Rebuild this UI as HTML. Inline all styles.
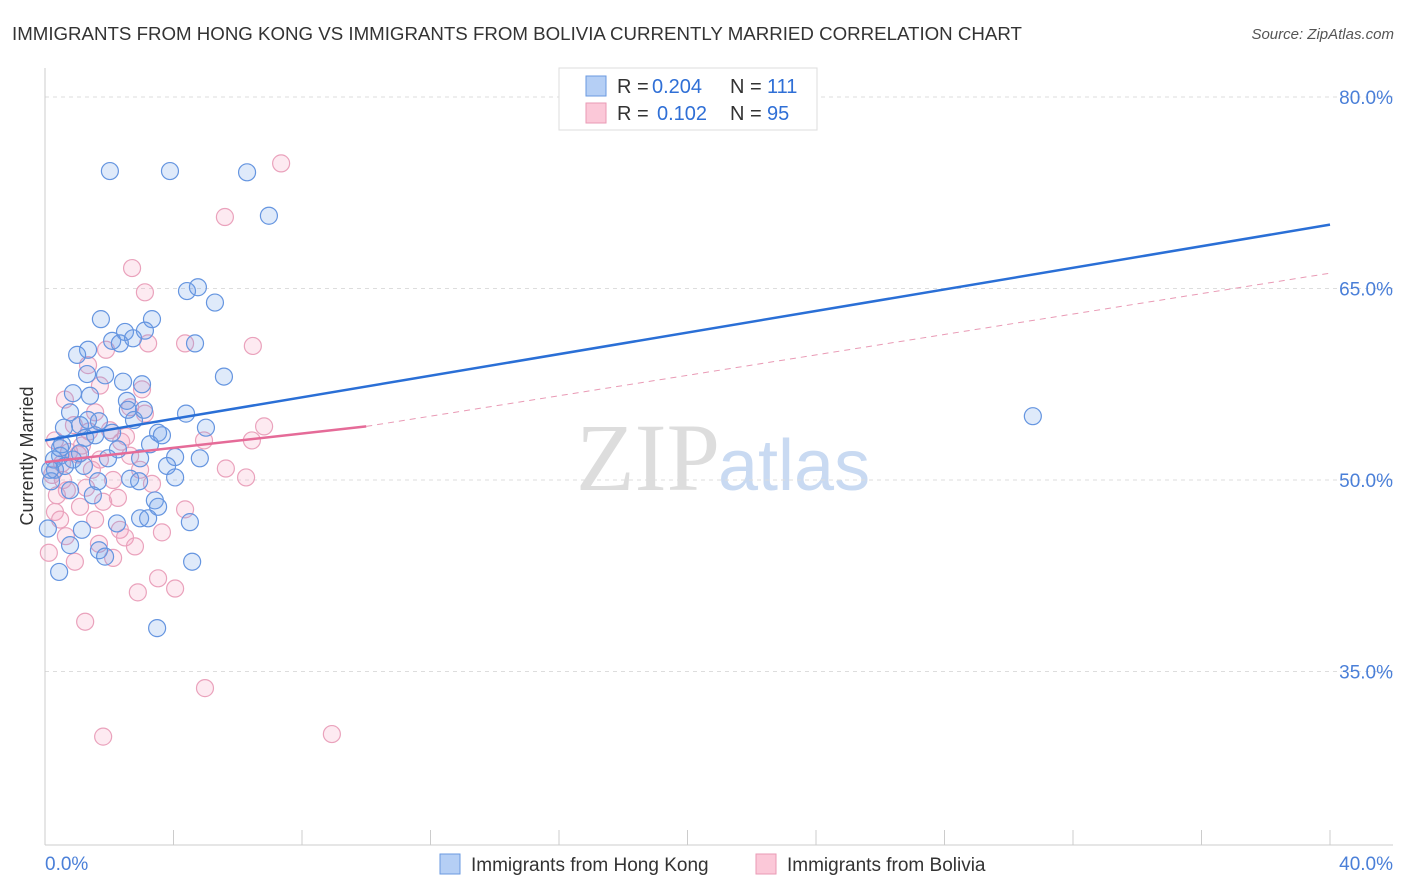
<!DOCTYPE html>
<html><head><meta charset="utf-8"><style>
body{margin:0;background:#fff;font-family:"Liberation Sans",sans-serif;}
svg{display:block}
</style></head><body>
<svg id="chart" width="1406" height="892" xmlns="http://www.w3.org/2000/svg">
<text x="12" y="40" font-size="18.7" fill="#333">IMMIGRANTS FROM HONG KONG VS IMMIGRANTS FROM BOLIVIA CURRENTLY MARRIED CORRELATION CHART</text>
<text x="1394" y="39" font-size="15" fill="#555" font-style="italic" text-anchor="end">Source: ZipAtlas.com</text>
<text transform="translate(33,456) rotate(-90)" font-size="18" fill="#333" text-anchor="middle">Currently Married</text>
<text x="720" y="490" font-size="96" text-anchor="end" fill="#ddd" font-family="Liberation Serif">ZIP</text>
<text x="718" y="490" font-size="72" fill="#c9daf2">atlas</text>
<g id="grid"></g><g id="axes"></g><g id="pts"></g><g id="lines"></g>
<g>
<rect x="559" y="68" width="258" height="62" fill="#fff" stroke="#ddd"/>
<rect x="586" y="76" width="20" height="20" fill="#b5cff5" stroke="#6a9ae0"/>
<rect x="586" y="103" width="20" height="20" fill="#fbc8d8" stroke="#e99ab5"/>
<text x="617" y="93" font-size="20" fill="#333">R =</text>
<text x="652" y="93" font-size="20" fill="#2f6fd6">0.204</text>
<text x="730" y="93" font-size="20" fill="#333">N =</text>
<text x="767" y="93" font-size="20" fill="#2f6fd6">111</text>
<text x="617" y="120" font-size="20" fill="#333">R =</text>
<text x="657" y="120" font-size="20" fill="#2f6fd6">0.102</text>
<text x="730" y="120" font-size="20" fill="#333">N =</text>
<text x="767" y="120" font-size="20" fill="#2f6fd6">95</text>
</g>
<g>
<rect x="440" y="854" width="20" height="20" fill="#b5cff5" stroke="#6a9ae0"/>
<text x="471" y="871" font-size="19" fill="#333">Immigrants from Hong Kong</text>
<rect x="756" y="854" width="20" height="20" fill="#fbc8d8" stroke="#e99ab5"/>
<text x="787" y="871" font-size="19" fill="#333">Immigrants from Bolivia</text>
</g>
</svg>
<script>
const yTicks=[80,65,50,35];
const yTickLabels=["80.0%","65.0%","50.0%","35.0%"];
const xLabels=["0.0%","40.0%"];
const blueX=[2.02,3.89,6.29,6.97,4.42,4.76,5.29,3.33,1.74,3.11,2.49,2.74,2.09,4.67,2.33,1.34,1.00,5.57,1.31,1.87,2.43,3.02,0.87,1.40,2.55,3.08,0.78,4.39,2.77,1.68,1.09,0.59,3.52,5.01,2.09,1.25,3.27,0.53,2.27,0.47,0.87,0.28,4.05,1.96,2.96,0.62,1.21,0.31,3.80,2.65,2.93,1.65,4.05,0.19,0.78,1.49,3.42,3.52,4.51,2.96,3.21,2.24,1.15,0.78,1.68,1.87,4.58,0.44,3.49,0.09,30.75,0.16,1.09,0.47,1.56,1.34,2.58,3.64,4.82];
const blueY=[74.2,74.2,74.1,70.7,64.8,65.1,63.9,62.6,62.6,61.7,61.6,61.1,60.9,60.7,60.7,60.2,59.8,58.1,58.3,58.2,57.7,57.5,56.8,56.6,56.2,55.5,55.3,55.2,54.7,54.6,54.3,54.1,53.7,54.1,53.7,53.3,52.8,52.8,52.4,51.9,51.6,51.6,51.8,51.7,51.7,51.1,51.1,50.8,51.1,50.1,49.9,49.9,50.2,49.9,49.2,48.8,48.4,47.9,46.7,47.0,47.0,46.6,46.1,44.9,44.5,44.0,43.6,42.8,38.4,46.2,55.0,50.8,52.1,52.5,53.5,54.7,55.5,53.5,51.7];
const pinkX=[7.35,5.60,2.71,3.11,4.36,6.47,3.21,1.90,1.34,3.02,1.71,0.62,2.65,1.56,3.11,6.82,0.90,2.02,1.37,2.52,4.95,6.44,0.31,1.15,0.75,2.65,1.71,2.96,5.63,6.26,0.22,0.56,2.12,3.33,0.68,1.28,0.37,2.27,1.81,1.09,0.31,0.47,1.56,4.36,2.33,3.64,0.65,2.49,2.80,1.68,2.12,0.93,0.12,3.52,4.05,2.89,1.25,4.98,1.81,8.93,1.03,1.46,0.53,2.37];
const pinkY=[74.8,70.6,66.6,64.7,60.7,60.5,60.7,60.2,59.0,57.1,57.4,56.3,55.7,55.3,55.2,54.2,54.3,53.9,53.8,53.4,53.1,53.1,53.1,52.7,52.2,51.9,51.6,50.8,50.9,50.2,50.4,50.0,50.0,49.7,49.2,49.4,48.8,48.6,48.3,47.9,47.5,46.9,46.9,47.7,46.1,45.9,45.6,45.5,44.8,45.0,43.9,43.6,44.3,42.3,41.5,41.2,38.9,33.7,29.9,30.1,52.0,50.8,51.3,53.0];
const blueLine=[[0,53.1],[40,70.0]];
const pinkSolid=[[0,51.4],[10,54.2]];
const pinkDash=[[10,54.2],[40,66.2]];
const NS="http://www.w3.org/2000/svg";
const X=v=>45+v*1285/40, Y=v=>97+(80-v)*12.767;
function mk(t,a,p){const e=document.createElementNS(NS,t);for(const k in a)e.setAttribute(k,a[k]);document.getElementById(p).appendChild(e);return e;}
yTicks.forEach((t,i)=>{
 const l=mk('line',{x1:45,x2:1393,y1:Y(t),y2:Y(t),stroke:'#ddd','stroke-dasharray':'4,4'},'grid');
 
 
 const tx=mk('text',{x:1393,y:Y(t)+7,'font-size':19,fill:'#4a7fd8','text-anchor':'end'},'grid');
 tx.textContent=yTickLabels[i];
 
 
});
let a=mk('line',{x1:45,x2:45,y1:68,y2:845,stroke:'#ccc'},'axes');

a=mk('line',{x1:45,x2:1393,y1:845,y2:845,stroke:'#ccc'},'axes');

for(let i=0;i<=10;i++){const t=mk('line',{x1:X(i*4),x2:X(i*4),y1:830,y2:845,stroke:'#ccc'},'axes');
 }
[[45,'start',0],[1393,'end',1]].forEach(([x,an,i])=>{const t=mk('text',{x:x,y:870,'font-size':19,fill:'#4a7fd8','text-anchor':an},'axes');t.textContent=xLabels[i];
 });
function pts(xs,ys,fill,stroke,name){xs.forEach((x,i)=>{const c=mk('circle',{cx:X(x),cy:Y(ys[i]),r:8.5,fill:fill,stroke:stroke,'stroke-width':1.2},'pts');
 });}
pts(pinkX,pinkY,'rgba(244,160,190,0.22)','#eaa2bc','bolivia-point');
pts(blueX,blueY,'rgba(110,160,230,0.22)','#6595e0','hong-kong-point');
function ln(p,st,w,d,name){const l=mk('line',{x1:X(p[0][0]),y1:Y(p[0][1]),x2:X(p[1][0]),y2:Y(p[1][1]),stroke:st,'stroke-width':w},'lines');if(d)l.setAttribute('stroke-dasharray',d);
 }
ln(blueLine,'#2a6fd6',2.5,null,'hong-kong-trendline');
ln(pinkSolid,'#e56b98',2.5,null,'bolivia-trendline');
ln(pinkDash,'#e99ab5',1,'6,5','bolivia-trendline-extension');
</script>
</body></html>
